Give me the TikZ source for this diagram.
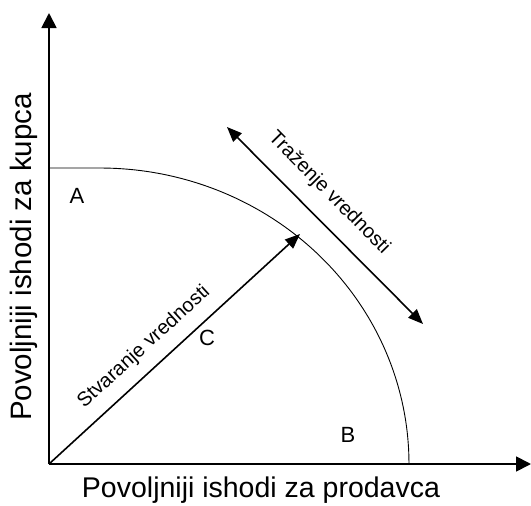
\documentclass[tikz,border=0pt]{standalone}
\usepackage{fontspec}
\setmainfont{Liberation Sans}
\usetikzlibrary{arrows.meta}
\begin{document}
\begin{tikzpicture}[x=1pt,y=-1pt,
  axis/.style={line width=1.8pt,-{Triangle[length=15pt,width=15pt]}},
  arr/.style={line width=1.6pt,-{Triangle[length=15pt,width=12pt]}},
  darr/.style={line width=1.6pt,{Triangle[length=15pt,width=12pt]}-{Triangle[length=15pt,width=12pt]}},
  big/.style={font=\fontsize{28.5}{30}\selectfont,inner sep=0pt},
  bigy/.style={font=\fontsize{29.5}{31}\selectfont,inner sep=0pt},
  mid/.style={font=\fontsize{22}{24}\selectfont,inner sep=0pt},
  small/.style={font=\fontsize{20}{22}\selectfont,inner sep=0pt}]
\useasboundingbox (0,0) rectangle (531,506);
\coordinate (O) at (49,464);
\coordinate (Ytip) at (49,13);
\coordinate (Xtip) at (531,464);
\coordinate (Ctip) at (300,234);
\coordinate (D1) at (227,127);
\coordinate (D2) at (423,324);
\coordinate (F0) at (49,168);
\coordinate (F1) at (100,168);
\draw[axis] (O) -- (Ytip);
\draw[axis] (O) -- (Xtip);
\draw[line width=0.9pt] (F0) -- (F1) -- plot[domain=90:0,samples=60,smooth] ({100+309*cos(\x)},{464-296*sin(\x)});
\draw[arr] (O) -- (Ctip);
\draw[darr] (D1) -- (D2);
\node[mid] (A) at (77,196) {A};
\node[mid] (B) at (348,435) {B};
\node[mid] (C) at (207,338) {C};
\node[big] (xl) at (261,490) {Povoljniji ishodi za prodavca};
\node[bigy,rotate=90] (yl) at (24,257) {Povoljniji ishodi za kupca};
\node[small,rotate=42.4] (st) at (144,347) {Stvaranje vrednosti};
\node[small,rotate=-45.5] (tr) at (329,193) {Traženje vrednosti};
\end{tikzpicture}
\end{document}
